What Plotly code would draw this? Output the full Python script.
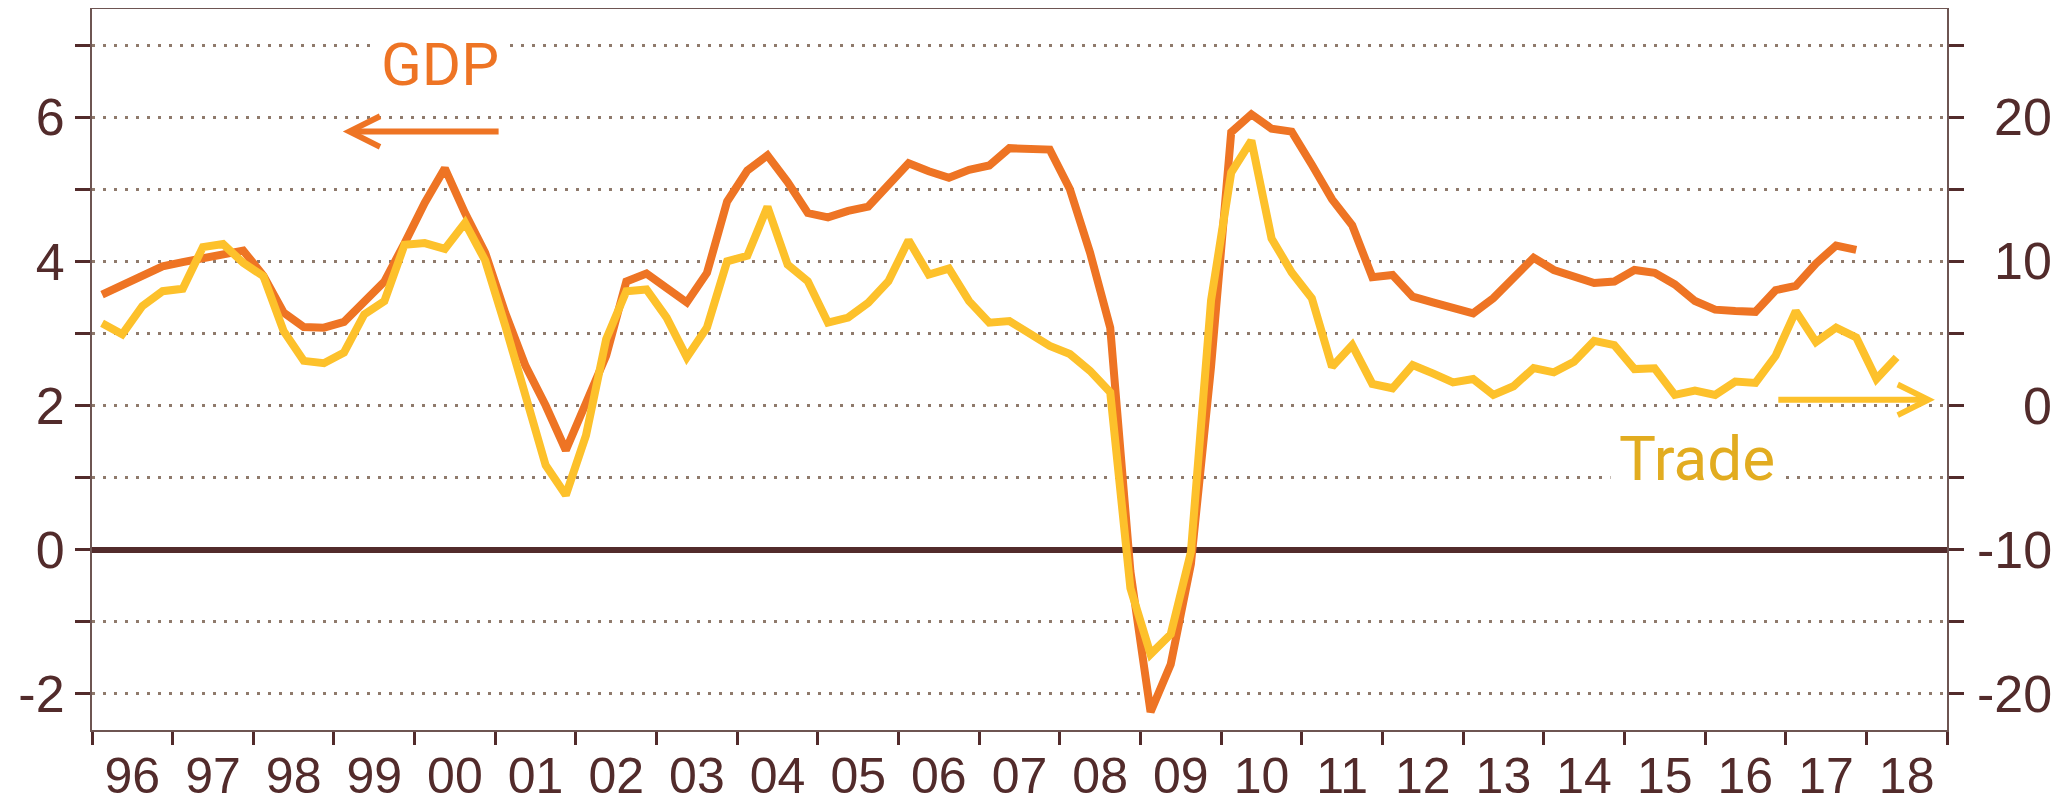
import pandas as pd
import plotly.graph_objects as go

# ---- data (quarterly, % y/y) ----
years = list(range(1996, 2019))
year_labels = [f"{y % 100:02d}" for y in years]

gdp = [3.54, 3.68, 3.80, 3.93,
       3.99, 4.05, 4.10, 4.15,
       3.80, 3.29, 3.09, 3.08,
       3.16, 3.45, 3.72, 4.25,
       4.81, 5.29, 4.67, 4.12,
       3.28, 2.55, 2.00, 1.38,
       2.02, 2.69, 3.72, 3.83,
       3.63, 3.43, 3.84, 4.83,
       5.26, 5.47, 5.10, 4.67,
       4.61, 4.70, 4.76, 5.08,
       5.36, 5.25, 5.16, 5.27,
       5.33, 5.57, 5.55, 5.55,
       5.00, 4.12, 3.08, -0.30,
       -2.25, -1.59, -0.20, 2.54,
       5.79, 6.04, 5.84, 5.80,
       5.34, 4.86, 4.50, 3.78,
       3.81, 3.51, 3.43, 3.36,
       3.28, 3.49, 3.78, 4.05,
       3.88, 3.79, 3.70, 3.72,
       3.88, 3.84, 3.68, 3.45,
       3.33, 3.31, 3.30, 3.60,
       3.66, 3.97, 4.22, 4.16]

trade = [5.70, 4.94, 6.90, 7.93,
         8.10, 10.99, 11.20, 9.89,
         8.97, 5.17, 3.10, 2.94,
         3.68, 6.32, 7.24, 11.15,
         11.27, 10.86, 12.67, 10.06,
         5.52, 0.92, -4.14, -6.21,
         -2.07, 4.60, 7.93, 8.05,
         6.10, 3.34, 5.41, 10.00,
         10.39, 13.79, 9.77, 8.62,
         5.75, 6.10, 7.13, 8.62,
         11.46, 9.08, 9.50, 7.24,
         5.75, 5.86, 5.06, 4.14,
         3.57, 2.41, 0.92, -12.66,
         -17.24, -15.86, -10.17, 7.29,
         16.16, 18.38, 11.59, 9.23,
         7.43, 2.68, 4.19, 1.50,
         1.20, 2.81, 2.23, 1.61,
         1.84, 0.74, 1.34, 2.60,
         2.30, 3.03, 4.48, 4.19,
         2.53, 2.58, 0.74, 1.03,
         0.74, 1.66, 1.57, 3.45,
         6.55, 4.41, 5.41, 4.72,
         1.84, 3.34]

left_ticks = list(range(-2, 8))
right_ticks = list(range(-20, 30, 5))
right_labels = [-20, -10, 0, 10, 20]

# quarter positions on a fractional-year axis (mid-quarter)
def quarter_x(n):
    q = pd.period_range("1996Q1", periods=n, freq="Q")
    return [p.year + (p.quarter - 0.5) / 4 for p in q]

ORANGE = "#EE7424"
YELLOW = "#FDC12B"
TRADE_TXT = "#E2AC20"
DARK = "#522B2B"
AXLINE = "#6E5552"
GRID = "#8F7A6C"
FONT = "Liberation Sans, Arial, sans-serif"
LBLFONT = "Roboto, sans-serif"
TICKSIZE = 52
XTICKSIZE = 50

fig = go.Figure()
fig.add_trace(go.Scatter(x=quarter_x(len(gdp)), y=gdp, mode="lines",
                         line=dict(color=ORANGE, width=8), name="GDP",
                         yaxis="y"))
fig.add_trace(go.Scatter(x=quarter_x(len(trade)), y=trade, mode="lines",
                         line=dict(color=YELLOW, width=8), name="Trade",
                         yaxis="y2"))

annotations = []
for v in right_labels:
    annotations.append(dict(x=1, xref="paper", y=v, yref="y2", text=str(v),
                            showarrow=False, xanchor="right", yanchor="middle",
                            xshift=107, font=dict(family=FONT, size=TICKSIZE, color=DARK)))

annotations += [
    dict(x=2000.31, y=6.73, xref="x", yref="y", text="GDP", showarrow=False,
         font=dict(family=LBLFONT, size=60, color=ORANGE), bgcolor="white",
         borderpad=6, xanchor="center", yanchor="middle"),
    dict(x=1999.11, y=5.80, xref="x", yref="y", ax=2001.06, ay=5.80,
         axref="x", ayref="y", text="", showarrow=True, arrowhead=5,
         arrowwidth=6, arrowsize=1.0, arrowcolor=ORANGE),
    dict(x=2015.90, y=1.265, xref="x", yref="y", text="Trade", showarrow=False,
         font=dict(family=LBLFONT, size=62, color=TRADE_TXT), bgcolor="white",
         borderpad=8, xanchor="center", yanchor="middle"),
    dict(x=2018.85, y=2.08, xref="x", yref="y", ax=2016.89, ay=2.08,
         axref="x", ayref="y", text="", showarrow=True, arrowhead=5,
         arrowwidth=6, arrowsize=1.0, arrowcolor=YELLOW),
]

# the page body adds an 8px offset, so the figure is 8px smaller and margins shifted
fig.update_layout(
    width=2063, height=797,
    margin=dict(l=84, r=124, t=1, b=75, autoexpand=False),
    paper_bgcolor="white", plot_bgcolor="white",
    showlegend=False,
    font=dict(family=FONT, color=DARK),
    xaxis=dict(
        range=[1996, 2019], automargin=False,
        tickmode="array",
        tickvals=[y + 0.5 for y in years],
        ticktext=year_labels,
        ticks="",
        ticklabelstandoff=1,
        tickfont=dict(family=FONT, size=XTICKSIZE, color=DARK),
        showgrid=False, zeroline=False,
        showline=True, linecolor=AXLINE, linewidth=2, mirror=True,
        minor=dict(tickmode="array", tickvals=list(range(1996, 2020)),
                   ticks="outside", ticklen=13, tickwidth=3, tickcolor=DARK,
                   showgrid=False),
    ),
    yaxis=dict(
        range=[-2.5, 7.5], automargin=False,
        tickmode="array",
        tickvals=left_ticks,
        ticktext=[str(v) if v % 2 == 0 else "" for v in left_ticks],
        ticks="outside", ticklen=15, tickwidth=3, tickcolor=DARK,
        tickfont=dict(family=FONT, size=TICKSIZE, color=DARK),
        showgrid=True, gridcolor=GRID, gridwidth=3, griddash="3px,8px",
        zeroline=True, zerolinecolor=DARK, zerolinewidth=5.5,
        showline=True, linecolor=AXLINE, linewidth=2,
    ),
    yaxis2=dict(
        range=[-22.5, 27.5], automargin=False,
        overlaying="y", side="right",
        tickmode="array", tickvals=right_ticks,
        ticks="outside", ticklen=15, tickwidth=3, tickcolor=DARK,
        showticklabels=False,
        showgrid=False, zeroline=False,
        showline=True, linecolor=AXLINE, linewidth=2,
    ),
    annotations=annotations,
)

fig.write_html("out.html")
